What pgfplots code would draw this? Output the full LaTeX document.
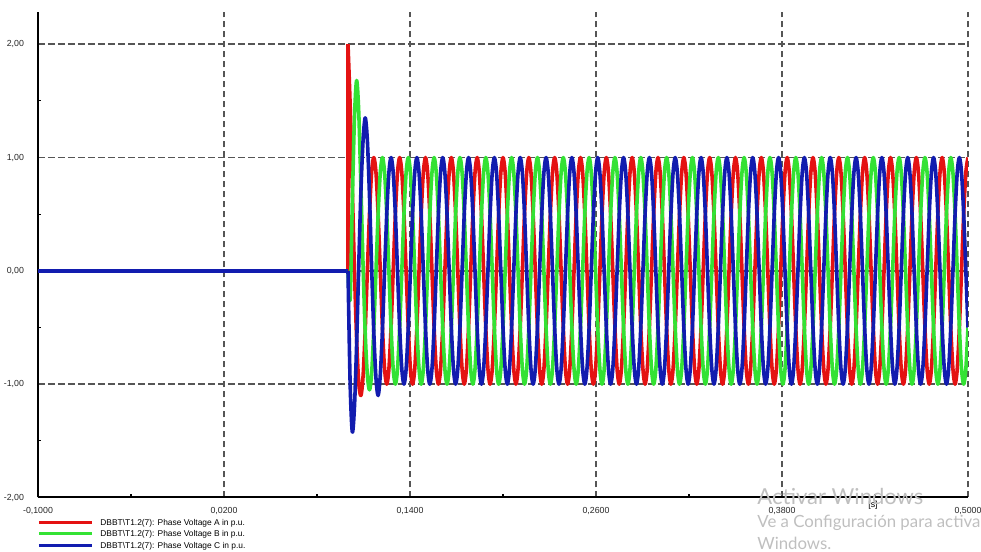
\documentclass[border=0pt]{standalone}
\usepackage{fontspec}
\setmainfont{Liberation Sans}
\newfontfamily\wmfont{Lato}
\usepackage{pgfplots}
\pgfplotsset{compat=1.18}
\usepackage{pgfplotstable}

\definecolor{phA}{RGB}{228,18,18}
\definecolor{phB}{RGB}{52,226,52}
\definecolor{phC}{RGB}{18,28,175}
\definecolor{gridc}{RGB}{85,85,85}

% phase voltages in p.u., sampled every 30 degrees of a 60 Hz wave
\pgfplotstableread{
t a b c
0.10000 2.00 0 0
0.10139 1.46 -0.25 -1.00
0.10278 0.73 0.60 -1.42
0.10417 0 1.35 -1.20
0.10556 -0.60 1.68 -0.65
0.10694 -0.99 1.40 0.05
0.10833 -1.10 0.75 0.70
0.10972 -0.93 0.05 1.15
0.11111 -0.52 -0.55 1.35
0.11250 0 -0.92 1.15
0.11389 0.51 -1.05 0.65
0.11528 0.88 -0.90 0.02
0.11667 1 -0.5 -0.55
0.11806 0.866 0 -0.95
0.11944 0.5 0.5 -1.10
0.12083 0 0.866 -0.92
0.12222 -0.5 1 -0.52
0.12361 -0.866 0.866 0
0.12500 -1 0.5 0.5
0.12639 -0.866 0 0.866
0.12778 -0.5 -0.5 1
0.12917 0 -0.866 0.866
0.13056 0.5 -1 0.5
0.13194 0.866 -0.866 0
0.13333 1 -0.5 -0.5
0.13472 0.866 0 -0.866
0.13611 0.5 0.5 -1
0.13750 0 0.866 -0.866
0.13889 -0.5 1 -0.5
0.14028 -0.866 0.866 0
0.14167 -1 0.5 0.5
0.14306 -0.866 0 0.866
0.14444 -0.5 -0.5 1
0.14583 0 -0.866 0.866
0.14722 0.5 -1 0.5
0.14861 0.866 -0.866 0
0.15000 1 -0.5 -0.5
0.15139 0.866 0 -0.866
0.15278 0.5 0.5 -1
0.15417 0 0.866 -0.866
0.15556 -0.5 1 -0.5
0.15694 -0.866 0.866 0
0.15833 -1 0.5 0.5
0.15972 -0.866 0 0.866
0.16111 -0.5 -0.5 1
0.16250 0 -0.866 0.866
0.16389 0.5 -1 0.5
0.16528 0.866 -0.866 0
0.16667 1 -0.5 -0.5
0.16806 0.866 0 -0.866
0.16944 0.5 0.5 -1
0.17083 0 0.866 -0.866
0.17222 -0.5 1 -0.5
0.17361 -0.866 0.866 0
0.17500 -1 0.5 0.5
0.17639 -0.866 0 0.866
0.17778 -0.5 -0.5 1
0.17917 0 -0.866 0.866
0.18056 0.5 -1 0.5
0.18194 0.866 -0.866 0
0.18333 1 -0.5 -0.5
0.18472 0.866 0 -0.866
0.18611 0.5 0.5 -1
0.18750 0 0.866 -0.866
0.18889 -0.5 1 -0.5
0.19028 -0.866 0.866 0
0.19167 -1 0.5 0.5
0.19306 -0.866 0 0.866
0.19444 -0.5 -0.5 1
0.19583 0 -0.866 0.866
0.19722 0.5 -1 0.5
0.19861 0.866 -0.866 0
0.20000 1 -0.5 -0.5
0.20139 0.866 0 -0.866
0.20278 0.5 0.5 -1
0.20417 0 0.866 -0.866
0.20556 -0.5 1 -0.5
0.20694 -0.866 0.866 0
0.20833 -1 0.5 0.5
0.20972 -0.866 0 0.866
0.21111 -0.5 -0.5 1
0.21250 0 -0.866 0.866
0.21389 0.5 -1 0.5
0.21528 0.866 -0.866 0
0.21667 1 -0.5 -0.5
0.21806 0.866 0 -0.866
0.21944 0.5 0.5 -1
0.22083 0 0.866 -0.866
0.22222 -0.5 1 -0.5
0.22361 -0.866 0.866 0
0.22500 -1 0.5 0.5
0.22639 -0.866 0 0.866
0.22778 -0.5 -0.5 1
0.22917 0 -0.866 0.866
0.23056 0.5 -1 0.5
0.23194 0.866 -0.866 0
0.23333 1 -0.5 -0.5
0.23472 0.866 0 -0.866
0.23611 0.5 0.5 -1
0.23750 0 0.866 -0.866
0.23889 -0.5 1 -0.5
0.24028 -0.866 0.866 0
0.24167 -1 0.5 0.5
0.24306 -0.866 0 0.866
0.24444 -0.5 -0.5 1
0.24583 0 -0.866 0.866
0.24722 0.5 -1 0.5
0.24861 0.866 -0.866 0
0.25000 1 -0.5 -0.5
0.25139 0.866 0 -0.866
0.25278 0.5 0.5 -1
0.25417 0 0.866 -0.866
0.25556 -0.5 1 -0.5
0.25694 -0.866 0.866 0
0.25833 -1 0.5 0.5
0.25972 -0.866 0 0.866
0.26111 -0.5 -0.5 1
0.26250 0 -0.866 0.866
0.26389 0.5 -1 0.5
0.26528 0.866 -0.866 0
0.26667 1 -0.5 -0.5
0.26806 0.866 0 -0.866
0.26944 0.5 0.5 -1
0.27083 0 0.866 -0.866
0.27222 -0.5 1 -0.5
0.27361 -0.866 0.866 0
0.27500 -1 0.5 0.5
0.27639 -0.866 0 0.866
0.27778 -0.5 -0.5 1
0.27917 0 -0.866 0.866
0.28056 0.5 -1 0.5
0.28194 0.866 -0.866 0
0.28333 1 -0.5 -0.5
0.28472 0.866 0 -0.866
0.28611 0.5 0.5 -1
0.28750 0 0.866 -0.866
0.28889 -0.5 1 -0.5
0.29028 -0.866 0.866 0
0.29167 -1 0.5 0.5
0.29306 -0.866 0 0.866
0.29444 -0.5 -0.5 1
0.29583 0 -0.866 0.866
0.29722 0.5 -1 0.5
0.29861 0.866 -0.866 0
0.30000 1 -0.5 -0.5
0.30139 0.866 0 -0.866
0.30278 0.5 0.5 -1
0.30417 0 0.866 -0.866
0.30556 -0.5 1 -0.5
0.30694 -0.866 0.866 0
0.30833 -1 0.5 0.5
0.30972 -0.866 0 0.866
0.31111 -0.5 -0.5 1
0.31250 0 -0.866 0.866
0.31389 0.5 -1 0.5
0.31528 0.866 -0.866 0
0.31667 1 -0.5 -0.5
0.31806 0.866 0 -0.866
0.31944 0.5 0.5 -1
0.32083 0 0.866 -0.866
0.32222 -0.5 1 -0.5
0.32361 -0.866 0.866 0
0.32500 -1 0.5 0.5
0.32639 -0.866 0 0.866
0.32778 -0.5 -0.5 1
0.32917 0 -0.866 0.866
0.33056 0.5 -1 0.5
0.33194 0.866 -0.866 0
0.33333 1 -0.5 -0.5
0.33472 0.866 0 -0.866
0.33611 0.5 0.5 -1
0.33750 0 0.866 -0.866
0.33889 -0.5 1 -0.5
0.34028 -0.866 0.866 0
0.34167 -1 0.5 0.5
0.34306 -0.866 0 0.866
0.34444 -0.5 -0.5 1
0.34583 0 -0.866 0.866
0.34722 0.5 -1 0.5
0.34861 0.866 -0.866 0
0.35000 1 -0.5 -0.5
0.35139 0.866 0 -0.866
0.35278 0.5 0.5 -1
0.35417 0 0.866 -0.866
0.35556 -0.5 1 -0.5
0.35694 -0.866 0.866 0
0.35833 -1 0.5 0.5
0.35972 -0.866 0 0.866
0.36111 -0.5 -0.5 1
0.36250 0 -0.866 0.866
0.36389 0.5 -1 0.5
0.36528 0.866 -0.866 0
0.36667 1 -0.5 -0.5
0.36806 0.866 0 -0.866
0.36944 0.5 0.5 -1
0.37083 0 0.866 -0.866
0.37222 -0.5 1 -0.5
0.37361 -0.866 0.866 0
0.37500 -1 0.5 0.5
0.37639 -0.866 0 0.866
0.37778 -0.5 -0.5 1
0.37917 0 -0.866 0.866
0.38056 0.5 -1 0.5
0.38194 0.866 -0.866 0
0.38333 1 -0.5 -0.5
0.38472 0.866 0 -0.866
0.38611 0.5 0.5 -1
0.38750 0 0.866 -0.866
0.38889 -0.5 1 -0.5
0.39028 -0.866 0.866 0
0.39167 -1 0.5 0.5
0.39306 -0.866 0 0.866
0.39444 -0.5 -0.5 1
0.39583 0 -0.866 0.866
0.39722 0.5 -1 0.5
0.39861 0.866 -0.866 0
0.40000 1 -0.5 -0.5
0.40139 0.866 0 -0.866
0.40278 0.5 0.5 -1
0.40417 0 0.866 -0.866
0.40556 -0.5 1 -0.5
0.40694 -0.866 0.866 0
0.40833 -1 0.5 0.5
0.40972 -0.866 0 0.866
0.41111 -0.5 -0.5 1
0.41250 0 -0.866 0.866
0.41389 0.5 -1 0.5
0.41528 0.866 -0.866 0
0.41667 1 -0.5 -0.5
0.41806 0.866 0 -0.866
0.41944 0.5 0.5 -1
0.42083 0 0.866 -0.866
0.42222 -0.5 1 -0.5
0.42361 -0.866 0.866 0
0.42500 -1 0.5 0.5
0.42639 -0.866 0 0.866
0.42778 -0.5 -0.5 1
0.42917 0 -0.866 0.866
0.43056 0.5 -1 0.5
0.43194 0.866 -0.866 0
0.43333 1 -0.5 -0.5
0.43472 0.866 0 -0.866
0.43611 0.5 0.5 -1
0.43750 0 0.866 -0.866
0.43889 -0.5 1 -0.5
0.44028 -0.866 0.866 0
0.44167 -1 0.5 0.5
0.44306 -0.866 0 0.866
0.44444 -0.5 -0.5 1
0.44583 0 -0.866 0.866
0.44722 0.5 -1 0.5
0.44861 0.866 -0.866 0
0.45000 1 -0.5 -0.5
0.45139 0.866 0 -0.866
0.45278 0.5 0.5 -1
0.45417 0 0.866 -0.866
0.45556 -0.5 1 -0.5
0.45694 -0.866 0.866 0
0.45833 -1 0.5 0.5
0.45972 -0.866 0 0.866
0.46111 -0.5 -0.5 1
0.46250 0 -0.866 0.866
0.46389 0.5 -1 0.5
0.46528 0.866 -0.866 0
0.46667 1 -0.5 -0.5
0.46806 0.866 0 -0.866
0.46944 0.5 0.5 -1
0.47083 0 0.866 -0.866
0.47222 -0.5 1 -0.5
0.47361 -0.866 0.866 0
0.47500 -1 0.5 0.5
0.47639 -0.866 0 0.866
0.47778 -0.5 -0.5 1
0.47917 0 -0.866 0.866
0.48056 0.5 -1 0.5
0.48194 0.866 -0.866 0
0.48333 1 -0.5 -0.5
0.48472 0.866 0 -0.866
0.48611 0.5 0.5 -1
0.48750 0 0.866 -0.866
0.48889 -0.5 1 -0.5
0.49028 -0.866 0.866 0
0.49167 -1 0.5 0.5
0.49306 -0.866 0 0.866
0.49444 -0.5 -0.5 1
0.49583 0 -0.866 0.866
0.49722 0.5 -1 0.5
0.49861 0.866 -0.866 0
0.50000 1 -0.5 -0.5
}\wave

\begin{document}
\begin{tikzpicture}
\useasboundingbox (0,0) rectangle (490.5pt,276pt);
\begin{axis}[
    at={(19pt,27.25pt)}, anchor=south west,
    scale only axis, width=465pt, height=242.5pt,
    xmin=-0.1, xmax=0.5, ymin=-2, ymax=2.28,
    axis x line=bottom, axis y line=left,
    axis line style={-, line width=1pt, black},
    xtick={-0.1,0.02,0.14,0.26,0.38,0.5},
    minor xtick={-0.04,0.08,0.2,0.32,0.44},
    ytick={-2,-1,0,1,2},
    minor ytick={-1.5,-0.5,0.5,1.5},
    major tick length=0pt, minor tick length=1.6pt, tick align=inside,
    tick style={black, line width=0.6pt},
    grid=major,
    major grid style={gridc, line width=0.8pt, dash pattern=on 3.3pt off 1.7pt},
    scaled x ticks=false, scaled y ticks=false,
    ticklabel style={font=\fontsize{4.4}{5}\selectfont, text=black!85},
    /pgf/number format/assume math mode=true,
    xticklabel style={yshift=-1.5pt, /pgf/number format/fixed, /pgf/number format/fixed zerofill, /pgf/number format/precision=4, /pgf/number format/use comma},
    yticklabel style={xshift=-3.5pt, /pgf/number format/fixed, /pgf/number format/fixed zerofill, /pgf/number format/precision=2, /pgf/number format/use comma},
    legend style={at={(axis description cs:0,0)}, anchor=north west, xshift=-0.5pt, yshift=-9.4pt,
        draw=none, fill=none, inner sep=0pt, row sep=0pt,
        font=\fontsize{4.2}{5}\selectfont,
        nodes={inner sep=0pt, text height=4.4pt, text depth=1.35pt},
        /tikz/every odd column/.append style={column sep=3.5pt}},
    legend cell align=left,
    legend image code/.code={\draw[#1, line width=1.5pt] (0pt,0pt) -- (26.5pt,0pt);},
]
\addplot[phA, line width=1.8pt, line join=round, forget plot] coordinates {(-0.1,0) (0.1,0) (0.1,2)};
\addplot[phB, line width=1.8pt, forget plot] coordinates {(-0.1,0) (0.1,0)};
\addplot[phC, line width=1.8pt, forget plot] coordinates {(-0.1,0) (0.1,0)};
\addplot[phA, line width=1.8pt, line join=round, smooth] table[x=t, y=a]{\wave};
\addlegendentry{DBBT\textbackslash T1.2(7): Phase Voltage A in p.u.}
\addplot[phB, line width=1.8pt, line join=round, smooth] table[x=t, y=b]{\wave};
\addlegendentry{DBBT\textbackslash T1.2(7): Phase Voltage B in p.u.}
\addplot[phC, line width=1.8pt, line join=round, smooth] table[x=t, y=c]{\wave};
\addlegendentry{DBBT\textbackslash T1.2(7): Phase Voltage C in p.u.}
\end{axis}
\node[font=\fontsize{4.4}{5}\selectfont] at (436.5pt,23.5pt) {[s]};
\node[anchor=base west, inner sep=0pt, text=black!25, font=\wmfont\fontsize{11}{13}\selectfont] at (378.5pt,23.5pt) {Activar Windows};
\node[anchor=base west, inner sep=0pt, text=black!25, font=\wmfont\fontsize{8.4}{10}\selectfont] at (378.5pt,12.5pt) {Ve a Configuración para activar};
\node[anchor=base west, inner sep=0pt, text=black!25, font=\wmfont\fontsize{8.4}{10}\selectfont] at (378.5pt,1pt) {Windows.};
\end{tikzpicture}
\end{document}
